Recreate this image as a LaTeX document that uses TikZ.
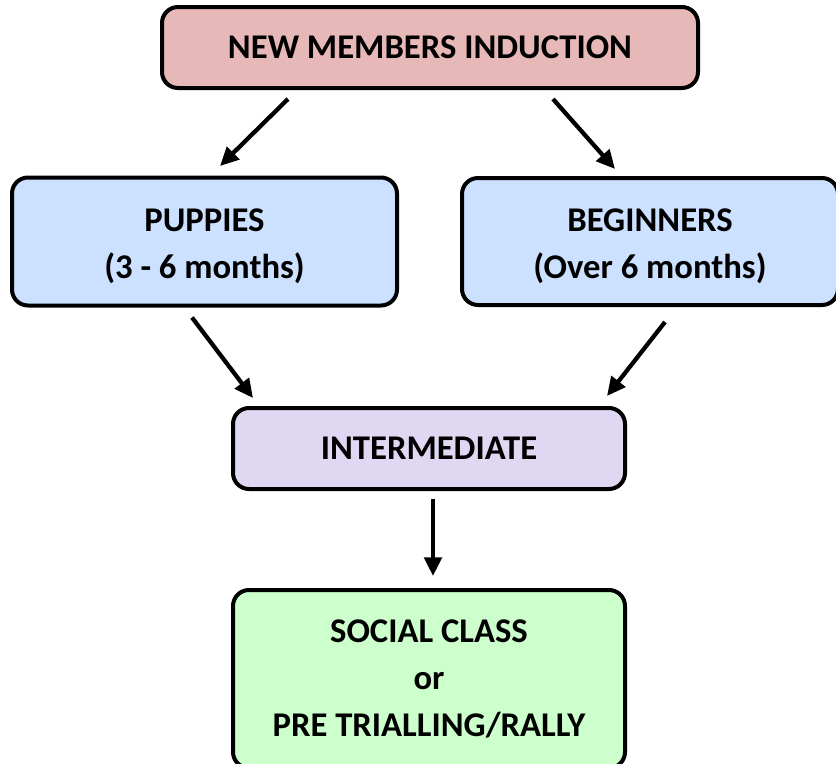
\documentclass[tikz,border=0pt]{standalone}
\usepackage{fontspec}
\setmainfont{Carlito}
\usetikzlibrary{arrows.meta,calc}
\definecolor{inductred}{RGB}{230,184,183}
\definecolor{levelblue}{RGB}{204,224,255}
\definecolor{levelpurple}{RGB}{224,215,242}
\definecolor{levelgreen}{RGB}{204,255,204}
\tikzset{
    stagebox/.style={draw=black, line width=3pt, rounded corners=12pt, align=center,
        inner sep=2pt, font=\fontsize{26}{35}\selectfont\bfseries},
    flow/.style={line width=3.2pt, -{Triangle[length=14pt,width=13pt]}}
}
\begin{document}
\begin{tikzpicture}[x=0.75pt,y=-0.75pt]
            \useasboundingbox (0,0) rectangle (836,764);
            \node[stagebox, fill=inductred, minimum width=402pt, minimum height=60.75pt] (induct) at (430,47.5) {NEW MEMBERS INDUCTION};
            \node[stagebox, fill=levelblue, minimum width=288.75pt, minimum height=96pt] (puppies) at (204.5,241.5) {\strut PUPPIES\\(3 - 6 months)};
            \node[stagebox, fill=levelblue, minimum width=282pt, minimum height=95.25pt] (beginners) at (650,241.5) {\strut BEGINNERS\\(Over 6 months)};
            \node[stagebox, fill=levelpurple, minimum width=294pt, minimum height=60.75pt] (inter) at (429,448.5) {INTERMEDIATE};
            \node[stagebox, fill=levelgreen, minimum width=294pt, minimum height=133.5pt] (social) at (429,679) {SOCIAL CLASS\\or\\PRE TRIALLING/RALLY};
            % arrows between stages
            \draw[flow] ($(induct.south)+(-142,9)$) -- ($(puppies.north)+(15.5,-9.5)$);
            \draw[flow] ($(induct.south)+(123,9)$) -- ($(beginners.north)+(-35,-7)$);
            \draw[flow] ($(puppies.south)+(-12.5,10)$) -- ($(inter.north)+(-176,-8)$);
            \draw[flow] ($(beginners.south)+(15,15)$) -- ($(inter.north)+(178,-10)$);
            \draw[flow] ($(inter.south)+(4,8)$) -- ($(social.north)+(4,-12)$);
\end{tikzpicture}
\end{document}
